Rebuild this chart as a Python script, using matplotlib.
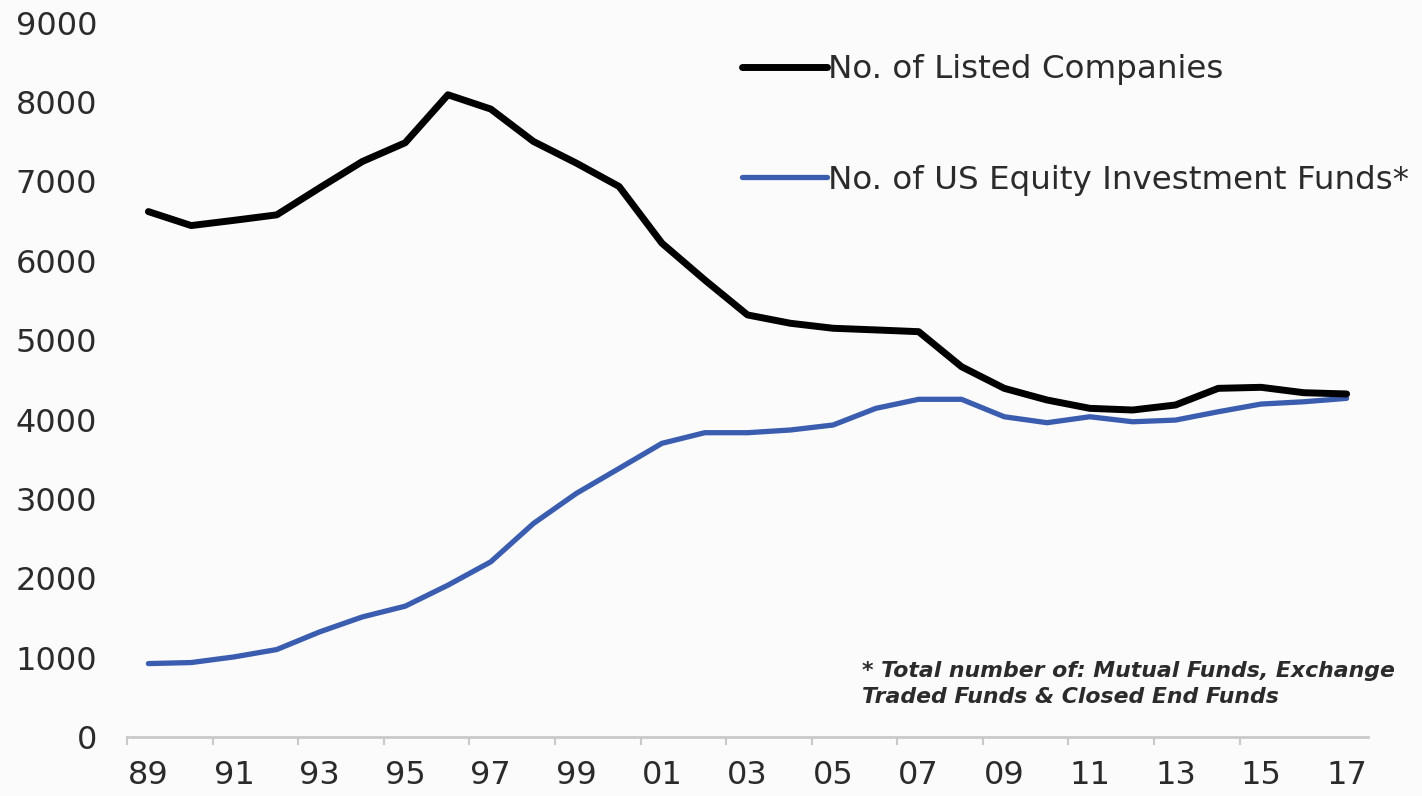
import matplotlib
matplotlib.use("Agg")
import matplotlib.pyplot as plt
from matplotlib.ticker import FixedLocator, NullFormatter

plt.rcParams['font.family'] = ['DejaVu Sans']

years = ['89', '90', '91', '92', '93', '94', '95', '96', '97', '98',
         '99', '00', '01', '02', '03', '04', '05', '06', '07', '08',
         '09', '10', '11', '12', '13', '14', '15', '16', '17']
listed_companies = [6620, 6444, 6510, 6579, 6919, 7251, 7487, 8092, 7912, 7503,
                    7231, 6936, 6222, 5759, 5318, 5213, 5150, 5129, 5107, 4666,
                    4393, 4246, 4141, 4120, 4183, 4393, 4406, 4338, 4322]
equity_funds = [925, 938, 1009, 1102, 1324, 1513, 1648, 1913, 2207, 2691,
                3069, 3384, 3700, 3834, 3834, 3868, 3931, 4141, 4255, 4255,
                4035, 3960, 4035, 3972, 3993, 4098, 4195, 4224, 4267]
label_years = years[::2]
yticks = [0, 1000, 2000, 3000, 4000, 5000, 6000, 7000, 8000, 9000]

W, H = 1422, 796
bg = '#fbfbfb'
txt = '#2b2b2b'
fig = plt.figure(figsize=(W / 100, H / 100), dpi=100, facecolor=bg)
ax = fig.add_axes([127 / W, 59 / H, (1368 - 127) / W, (737 - 22.7) / H])
ax.set_facecolor(bg)

x = list(range(len(years)))
ax.plot(x, listed_companies, color='#000000', lw=5.0,
        solid_capstyle='round', solid_joinstyle='round',
        label='No. of Listed Companies', zorder=3)
ax.plot(x, equity_funds, color='#3b5db0', lw=3.8,
        solid_capstyle='round', solid_joinstyle='round',
        label='No. of US Equity Investment Funds*', zorder=2)

ax.set_xlim(-0.5, len(years) - 0.5)
ax.set_ylim(0, 9000)

for s in ['top', 'right', 'left']:
    ax.spines[s].set_visible(False)
ax.spines['bottom'].set_color('#c9c9c9')
ax.spines['bottom'].set_linewidth(2.0)

ax.set_yticks(yticks)
ax.set_yticklabels([str(v) for v in yticks])
ax.tick_params(axis='y', length=0, pad=21.5, labelsize=23, labelcolor=txt)

major = [i - 0.5 for i in range(0, len(years) - 1, 2)]
ax.xaxis.set_major_locator(FixedLocator(major))
ax.xaxis.set_major_formatter(NullFormatter())
ax.xaxis.set_minor_locator(FixedLocator(list(range(0, len(years), 2))))
ax.set_xticklabels(label_years, minor=True)
ax.tick_params(axis='x', which='major', length=6, width=1.5, color='#c9c9c9', direction='out')
ax.tick_params(axis='x', which='minor', length=0, pad=16.5, labelsize=23, labelcolor=txt)

leg = ax.legend(loc='upper left', bbox_to_anchor=(742 / W, 1 - 54 / H),
                bbox_transform=fig.transFigure, frameon=False,
                fontsize=23.4, handlelength=2.6, handletextpad=0.05,
                labelspacing=2.45, borderpad=0, borderaxespad=0)
for t in leg.get_texts():
    t.set_color(txt)

ax.text(862 / W, 1 - 684 / H, '* Total number of: Mutual Funds, Exchange\nTraded Funds & Closed End Funds',
        transform=fig.transFigure, fontsize=15.8, style='italic', fontweight='bold', color=txt,
        va='center', ha='left', linespacing=1.35)

fig.savefig('out.png', dpi=100, facecolor=bg)
